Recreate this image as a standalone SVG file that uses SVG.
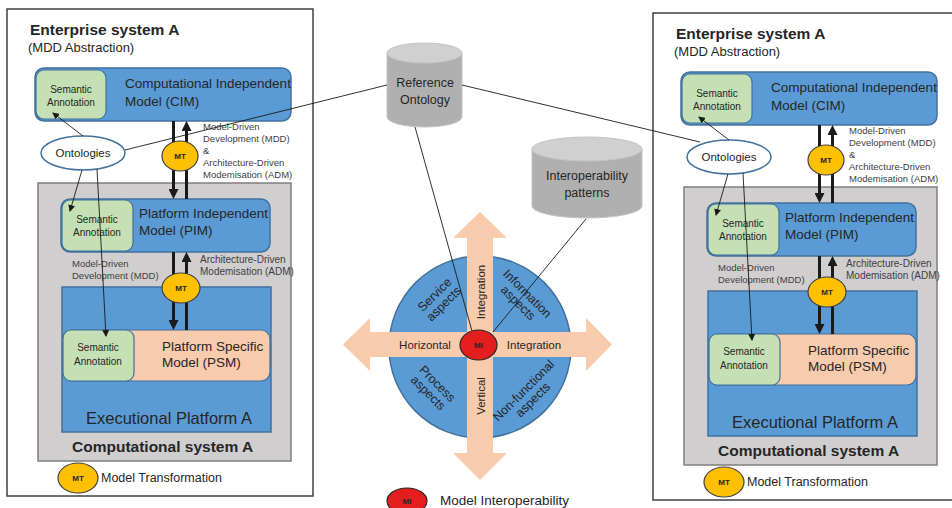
<svg xmlns="http://www.w3.org/2000/svg" width="952" height="508" viewBox="0 0 952 508">
<defs>
<style>
text{font-family:"Liberation Sans",Arial,sans-serif;fill:#262626}
.panel{fill:#fff;stroke:#404040;stroke-width:1.5}
.blue{fill:#5B9BD5;stroke:#41719C;stroke-width:1.5}
.green{fill:#C5E0B4;stroke:#41719C;stroke-width:1.2}
.salmon{fill:#F8CBAD;stroke:#41719C;stroke-width:1.2}
.gray{fill:#D0CECE;stroke:#7F7F7F;stroke-width:1.5}
.onto{fill:#fff;stroke:#41719C;stroke-width:1.5}
.mt{fill:#FFC000;stroke:#404040;stroke-width:1.2}
.mi{fill:#E41E1E;stroke:#262626;stroke-width:1.2}
.cylb{fill:#B0B0B0;stroke:#C4C4C4;stroke-width:1}
.cylt{fill:#D0D0D0;stroke:#C4C4C4;stroke-width:1}
.peach{fill:#F8CBAD}
.title{font-size:15.5px;font-weight:bold}
.sub{font-size:13px}
.box{font-size:13.5px}
.sa{font-size:10px;text-anchor:middle}
.lbl{font-size:9.5px;fill:#404040}
.lbl2{font-size:10px;fill:#404040}
.exec{font-size:16.5px}
.tag{font-size:8px;font-weight:bold;text-anchor:middle}
.leg{font-size:12.5px}
.cyl{font-size:12.5px;text-anchor:middle}
.asp{font-size:11.5px;text-anchor:middle}
.asp2{font-size:12.5px;text-anchor:middle}
.thick{stroke:#1A1A1A;stroke-width:3;fill:none}
.thin{stroke:#1A1A1A;stroke-width:0.9;fill:none}
</style>
<marker id="ah" markerUnits="userSpaceOnUse" markerWidth="10" markerHeight="10" refX="1" refY="5" orient="auto"><path d="M0,0 L10,5 L0,10 z" fill="#1A1A1A"/></marker>
<marker id="ahs" markerUnits="userSpaceOnUse" markerWidth="7" markerHeight="7" refX="6" refY="3.5" orient="auto"><path d="M0,0 L7,3.5 L0,7 z" fill="#1A1A1A"/></marker>
</defs>

<!-- Left panel -->
<g id="panelA">
  <rect class="panel" x="7" y="9" width="306" height="487"/>
  <text class="title" x="30" y="35">Enterprise system A</text>
  <text class="sub" x="28" y="52">(MDD Abstraction)</text>
  <g id="cimA">
    <rect class="blue" x="35" y="68" width="256" height="53" rx="9"/>
    <rect class="green" x="36" y="70" width="70" height="49" rx="8"/>
    <text class="sa" x="71" y="93">Semantic</text>
    <text class="sa" x="71" y="106">Annotation</text>
    <text class="box" x="125" y="88">Computational Independent</text>
    <text class="box" x="125" y="106">Model (CIM)</text>
  </g>
  <g id="compA">
    <rect class="gray" x="38" y="183" width="253" height="278"/>
    <text class="title" x="72" y="452">Computational system A</text>
  </g>
  <g id="pimA">
    <rect class="blue" x="61" y="199" width="209" height="53" rx="9"/>
    <rect class="green" x="62" y="200" width="71" height="51" rx="8"/>
    <text class="sa" x="97" y="223">Semantic</text>
    <text class="sa" x="97" y="236">Annotation</text>
    <text class="box" x="139" y="218">Platform Independent</text>
    <text class="box" x="139" y="235">Model (PIM)</text>
  </g>
  <g id="execA">
    <rect class="blue" x="62" y="287" width="209" height="145"/>
    <text class="exec" x="86" y="424">Executional Platform A</text>
  </g>
  <g id="psmA">
    <rect class="salmon" x="63" y="330" width="207" height="51" rx="9"/>
    <rect class="green" x="63" y="330" width="71" height="51" rx="8"/>
    <text class="sa" x="98" y="351">Semantic</text>
    <text class="sa" x="98" y="365">Annotation</text>
    <text class="box" x="162" y="351">Platform Specific</text>
    <text class="box" x="162" y="367">Model (PSM)</text>
  </g>
  <g id="ontoA">
    <ellipse class="onto" cx="83" cy="153" rx="42" ry="17"/>
    <text x="83" y="157" font-size="11.5" text-anchor="middle">Ontologies</text>
  </g>
  <g id="labelsA">
    <text class="lbl" x="203" y="130">Model-Driven</text>
    <text class="lbl" x="203" y="142">Development (MDD)</text>
    <text class="lbl" x="203" y="154">&amp;</text>
    <text class="lbl" x="203" y="166">Architecture-Driven</text>
    <text class="lbl" x="203" y="178">Modemisation (ADM)</text>
    <text class="lbl" x="72" y="267">Model-Driven</text>
    <text class="lbl" x="72" y="279">Development (MDD)</text>
    <text class="lbl2" x="200" y="263">Architecture-Driven</text>
    <text class="lbl2" x="200" y="275">Modemisation (ADM)</text>
  </g>
  <g id="connectorsA">
    <line class="thick" x1="173.5" y1="121" x2="173.5" y2="190" marker-end="url(#ah)"/>
    <line class="thick" x1="186.5" y1="199" x2="186.5" y2="130" marker-end="url(#ah)"/>
    <line class="thick" x1="173.5" y1="252" x2="173.5" y2="321" marker-end="url(#ah)"/>
    <line class="thick" x1="186.5" y1="330" x2="186.5" y2="261" marker-end="url(#ah)"/>
    <line class="thin" x1="83" y1="136" x2="53" y2="113" marker-end="url(#ahs)"/>
    <line class="thin" x1="82" y1="170" x2="70" y2="211" marker-end="url(#ahs)"/>
    <line class="thin" x1="97" y1="169" x2="106" y2="336" marker-end="url(#ahs)"/>
  </g>
  <g id="mtA1"><ellipse class="mt" cx="180" cy="156" rx="18" ry="15"/><text class="tag" x="180" y="159">MT</text></g>
  <g id="mtA2"><ellipse class="mt" cx="181" cy="288" rx="19" ry="15"/><text class="tag" x="181" y="291">MT</text></g>
  <g id="legA"><ellipse class="mt" cx="78" cy="478" rx="20" ry="15"/><text class="tag" x="78" y="481">MT</text>
    <text class="leg" x="101" y="482">Model Transformation</text></g>
</g>

<!-- Right panel -->
<g id="panelB" transform="translate(646,4)">
  <rect class="panel" x="7" y="9" width="306" height="487"/>
  <text class="title" x="30" y="35">Enterprise system A</text>
  <text class="sub" x="28" y="52">(MDD Abstraction)</text>
  <g id="cimB">
    <rect class="blue" x="35" y="68" width="256" height="53" rx="9"/>
    <rect class="green" x="36" y="70" width="70" height="49" rx="8"/>
    <text class="sa" x="71" y="93">Semantic</text>
    <text class="sa" x="71" y="106">Annotation</text>
    <text class="box" x="125" y="88">Computational Independent</text>
    <text class="box" x="125" y="106">Model (CIM)</text>
  </g>
  <g id="compB">
    <rect class="gray" x="38" y="183" width="253" height="278"/>
    <text class="title" x="72" y="452">Computational system A</text>
  </g>
  <g id="pimB">
    <rect class="blue" x="61" y="199" width="209" height="53" rx="9"/>
    <rect class="green" x="62" y="200" width="71" height="51" rx="8"/>
    <text class="sa" x="97" y="223">Semantic</text>
    <text class="sa" x="97" y="236">Annotation</text>
    <text class="box" x="139" y="218">Platform Independent</text>
    <text class="box" x="139" y="235">Model (PIM)</text>
  </g>
  <g id="execB">
    <rect class="blue" x="62" y="287" width="209" height="145"/>
    <text class="exec" x="86" y="424">Executional Platform A</text>
  </g>
  <g id="psmB">
    <rect class="salmon" x="63" y="330" width="207" height="51" rx="9"/>
    <rect class="green" x="63" y="330" width="71" height="51" rx="8"/>
    <text class="sa" x="98" y="351">Semantic</text>
    <text class="sa" x="98" y="365">Annotation</text>
    <text class="box" x="162" y="351">Platform Specific</text>
    <text class="box" x="162" y="367">Model (PSM)</text>
  </g>
  <g id="ontoB">
    <ellipse class="onto" cx="83" cy="153" rx="42" ry="17"/>
    <text x="83" y="157" font-size="11.5" text-anchor="middle">Ontologies</text>
  </g>
  <g id="labelsB">
    <text class="lbl" x="203" y="130">Model-Driven</text>
    <text class="lbl" x="203" y="142">Development (MDD)</text>
    <text class="lbl" x="203" y="154">&amp;</text>
    <text class="lbl" x="203" y="166">Architecture-Driven</text>
    <text class="lbl" x="203" y="178">Modemisation (ADM)</text>
    <text class="lbl" x="72" y="267">Model-Driven</text>
    <text class="lbl" x="72" y="279">Development (MDD)</text>
    <text class="lbl2" x="200" y="263">Architecture-Driven</text>
    <text class="lbl2" x="200" y="275">Modemisation (ADM)</text>
  </g>
  <g id="connectorsB">
    <line class="thick" x1="173.5" y1="121" x2="173.5" y2="190" marker-end="url(#ah)"/>
    <line class="thick" x1="186.5" y1="199" x2="186.5" y2="130" marker-end="url(#ah)"/>
    <line class="thick" x1="173.5" y1="252" x2="173.5" y2="321" marker-end="url(#ah)"/>
    <line class="thick" x1="186.5" y1="330" x2="186.5" y2="261" marker-end="url(#ah)"/>
    <line class="thin" x1="83" y1="136" x2="53" y2="113" marker-end="url(#ahs)"/>
    <line class="thin" x1="82" y1="170" x2="70" y2="211" marker-end="url(#ahs)"/>
    <line class="thin" x1="97" y1="169" x2="106" y2="336" marker-end="url(#ahs)"/>
  </g>
  <g id="mtB1"><ellipse class="mt" cx="180" cy="156" rx="18" ry="15"/><text class="tag" x="180" y="159">MT</text></g>
  <g id="mtB2"><ellipse class="mt" cx="181" cy="288" rx="19" ry="15"/><text class="tag" x="181" y="291">MT</text></g>
  <g id="legB"><ellipse class="mt" cx="78" cy="478" rx="20" ry="15"/><text class="tag" x="78" y="481">MT</text>
    <text class="leg" x="101" y="482">Model Transformation</text></g>
</g>

<!-- Reference Ontology -->
<g id="refOnto">
  <path class="cylb" d="M387,53 L387,117 A37.5,10 0 0 0 462,117 L462,53 Z"/>
  <ellipse class="cylt" cx="424.5" cy="53" rx="37.5" ry="10"/>
  <text class="cyl" x="425" y="87">Reference</text>
  <text class="cyl" x="425" y="104">Ontology</text>
</g>

<!-- Interoperability patterns -->
<g id="interop">
  <path class="cylb" d="M532,149 L532,206 A55,12 0 0 0 642,206 L642,149 Z"/>
  <ellipse class="cylt" cx="587" cy="149" rx="55" ry="12"/>
  <text class="cyl" x="587" y="180" font-size="13">Interoperability</text>
  <text class="cyl" x="587" y="197" font-size="13">patterns</text>
</g>

<!-- Interoperability wheel -->
<g id="wheel">
  <circle class="blue" cx="480" cy="347" r="91"/>
  <polygon class="peach" points="480,212 507,238 493,238 493,453 507,453 480,480 453,453 467,453 467,238 453,238"/>
  <polygon class="peach" points="343,344.5 370,318 370,332 586,332 586,318 612,344.5 586,371 586,357 370,357 370,371"/>
  <text class="asp" x="425" y="349">Horizontal</text>
  <text class="asp" x="534" y="349">Integration</text>
  <text class="asp" transform="translate(485,292) rotate(-90)">Integration</text>
  <text class="asp" transform="translate(485,396) rotate(-90)">Vertical</text>
  <g transform="translate(439,299) rotate(-45)"><text class="asp2" x="0" y="-2">Service</text><text class="asp2" x="0" y="11">aspects</text></g>
  <g transform="translate(523,298) rotate(45)"><text class="asp2" x="0" y="-2">Information</text><text class="asp2" x="0" y="11">aspects</text></g>
  <g transform="translate(433,388) rotate(45)"><text class="asp2" x="0" y="-2">Process</text><text class="asp2" x="0" y="11">aspects</text></g>
  <g transform="translate(528,395) rotate(-45)"><text class="asp2" x="0" y="-2">Non-functional</text><text class="asp2" x="0" y="11">aspects</text></g>
</g>

<!-- Connectors -->
<g id="connectors">
  <line class="thin" x1="125" y1="150" x2="387" y2="85"/>
  <line class="thin" x1="462" y1="85" x2="700" y2="142"/>
  <line class="thin" x1="415" y1="127" x2="472" y2="331"/>
  <line class="thin" x1="586" y1="219" x2="493" y2="332"/>
</g>

<g id="mi"><ellipse class="mi" cx="478.5" cy="345" rx="18.5" ry="15"/><text class="tag" x="478.5" y="348">MI</text></g>
<g id="legMI"><ellipse class="mi" cx="407" cy="501" rx="20" ry="13"/><text class="tag" x="407" y="504">MI</text>
  <text x="440" y="505" font-size="13.5">Model Interoperability</text></g>
</svg>
